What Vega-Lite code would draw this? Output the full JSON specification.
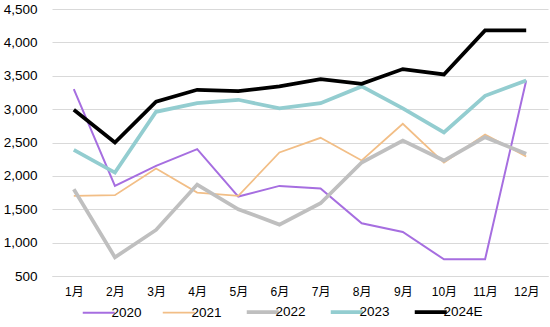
{
  "$schema": "https://vega.github.io/schema/vega-lite/v6.json",
  "width": 550,
  "height": 327,
  "autosize": {"type": "fit", "contains": "padding"},
  "padding": {"left": 3, "top": 2, "right": 2, "bottom": 30},
  "config": {
    "view": {"stroke": null},
    "font": "Liberation Sans, Noto Sans CJK SC",
    "axis": {"labelFont": "Liberation Sans, Noto Sans CJK SC", "labelColor": "#000"},
    "legend": {"labelFont": "Liberation Sans, Noto Sans CJK SC"}
  },
  "data": {
    "values": [
      {"m": "1月", "s": "2020", "v": 3300}, {"m": "2月", "s": "2020", "v": 1850}, {"m": "3月", "s": "2020", "v": 2150}, {"m": "4月", "s": "2020", "v": 2400}, {"m": "5月", "s": "2020", "v": 1690}, {"m": "6月", "s": "2020", "v": 1850}, {"m": "7月", "s": "2020", "v": 1810}, {"m": "8月", "s": "2020", "v": 1290}, {"m": "9月", "s": "2020", "v": 1160}, {"m": "10月", "s": "2020", "v": 750}, {"m": "11月", "s": "2020", "v": 750}, {"m": "12月", "s": "2020", "v": 3430},
      {"m": "1月", "s": "2021", "v": 1700}, {"m": "2月", "s": "2021", "v": 1710}, {"m": "3月", "s": "2021", "v": 2110}, {"m": "4月", "s": "2021", "v": 1750}, {"m": "5月", "s": "2021", "v": 1700}, {"m": "6月", "s": "2021", "v": 2350}, {"m": "7月", "s": "2021", "v": 2570}, {"m": "8月", "s": "2021", "v": 2230}, {"m": "9月", "s": "2021", "v": 2780}, {"m": "10月", "s": "2021", "v": 2200}, {"m": "11月", "s": "2021", "v": 2620}, {"m": "12月", "s": "2021", "v": 2290},
      {"m": "1月", "s": "2022", "v": 1800}, {"m": "2月", "s": "2022", "v": 780}, {"m": "3月", "s": "2022", "v": 1190}, {"m": "4月", "s": "2022", "v": 1870}, {"m": "5月", "s": "2022", "v": 1500}, {"m": "6月", "s": "2022", "v": 1270}, {"m": "7月", "s": "2022", "v": 1590}, {"m": "8月", "s": "2022", "v": 2200}, {"m": "9月", "s": "2022", "v": 2530}, {"m": "10月", "s": "2022", "v": 2230}, {"m": "11月", "s": "2022", "v": 2580}, {"m": "12月", "s": "2022", "v": 2330},
      {"m": "1月", "s": "2023", "v": 2390}, {"m": "2月", "s": "2023", "v": 2050}, {"m": "3月", "s": "2023", "v": 2960}, {"m": "4月", "s": "2023", "v": 3090}, {"m": "5月", "s": "2023", "v": 3140}, {"m": "6月", "s": "2023", "v": 3010}, {"m": "7月", "s": "2023", "v": 3090}, {"m": "8月", "s": "2023", "v": 3340}, {"m": "9月", "s": "2023", "v": 3010}, {"m": "10月", "s": "2023", "v": 2650}, {"m": "11月", "s": "2023", "v": 3200}, {"m": "12月", "s": "2023", "v": 3430},
      {"m": "1月", "s": "2024E", "v": 2990}, {"m": "2月", "s": "2024E", "v": 2500}, {"m": "3月", "s": "2024E", "v": 3110}, {"m": "4月", "s": "2024E", "v": 3290}, {"m": "5月", "s": "2024E", "v": 3270}, {"m": "6月", "s": "2024E", "v": 3340}, {"m": "7月", "s": "2024E", "v": 3450}, {"m": "8月", "s": "2024E", "v": 3380}, {"m": "9月", "s": "2024E", "v": 3600}, {"m": "10月", "s": "2024E", "v": 3520}, {"m": "11月", "s": "2024E", "v": 4180}, {"m": "12月", "s": "2024E", "v": 4180}
    ]
  },
  "mark": {"type": "line", "strokeJoin": "miter", "strokeCap": "butt"},
  "encoding": {
    "x": {
      "field": "m", "type": "ordinal",
      "sort": ["1月","2月","3月","4月","5月","6月","7月","8月","9月","10月","11月","12月"],
      "scale": {"type": "point", "padding": 0.53},
      "axis": {"title": null, "labelAngle": 0, "ticks": false, "domain": true, "domainColor": "#d9d9d9", "labelFontSize": 12, "labelPadding": 10}
    },
    "y": {
      "field": "v", "type": "quantitative",
      "scale": {"domain": [500, 4500], "nice": false, "zero": false},
      "axis": {"title": null, "values": [500,1000,1500,2000,2500,3000,3500,4000,4500], "format": ",.0f", "ticks": false, "domain": false, "gridColor": "#d9d9d9", "gridWidth": 1, "labelFontSize": 13.5, "labelPadding": 15}
    },
    "color": {
      "field": "s", "type": "nominal",
      "scale": {"domain": ["2020","2021","2022","2023","2024E"], "range": ["#a66ee0","#f2be86","#bfbfbf","#93cdd0","#000000"]},
      "legend": {
        "title": null, "orient": "none", "legendX": 40, "legendY": 296, "direction": "horizontal",
        "symbolType": "stroke", "symbolSize": 1024, "labelFontSize": 13.5, "labelColor": "#000", "labelOffset": 6, "columnPadding": 17,
        "encode": {"symbols": {"update": {"strokeWidth": {"signal": "datum.value === '2020' ? 2 : datum.value === '2021' ? 1.75 : 3.75"}}}}
      }
    },
    "strokeWidth": {
      "condition": [
        {"test": "datum.s === '2020'", "value": 2},
        {"test": "datum.s === '2021'", "value": 1.75}
      ],
      "value": 3.75
    }
  }
}
